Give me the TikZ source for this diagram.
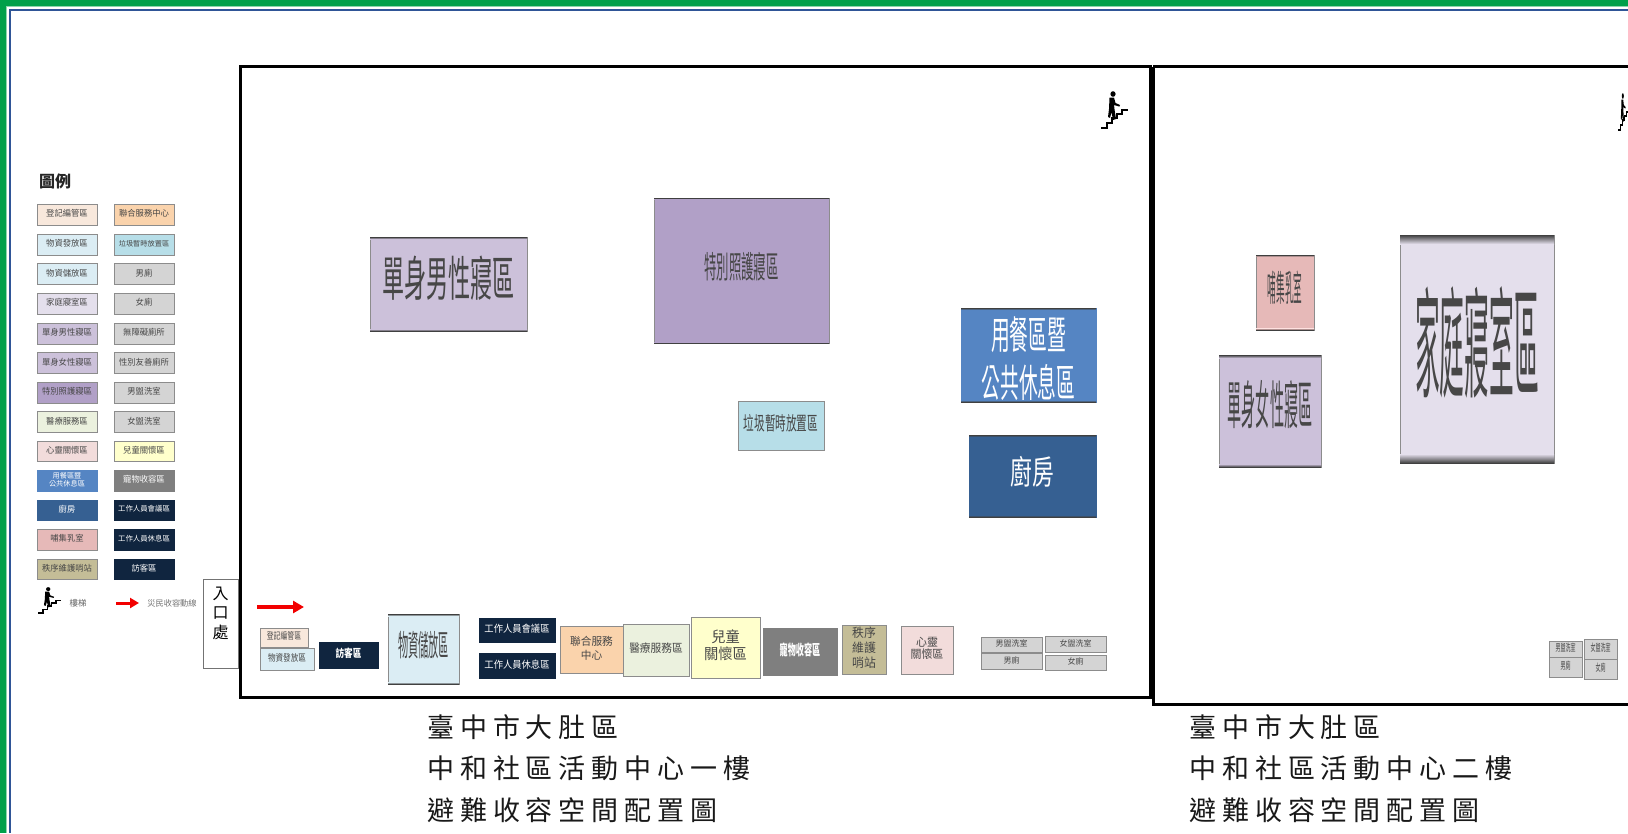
\documentclass[tikz,border=0pt]{standalone}
\usepackage{graphicx}
\usepackage{fontspec}
\setmainfont{Noto Sans CJK TC}
\newfontfamily\capfont[LetterSpace=22]{Noto Sans CJK TC}
\usetikzlibrary{arrows.meta}
\tikzset{
  x=1pt,y=-1pt,
  roombox/.style={draw=#1,line width=.9pt,inner sep=0pt,outer sep=0pt,text=black!72},
  roombox/.default={black!45},
  outerwall/.style={draw=black,line width=3pt},
  flowarrow/.style={draw=red!95!black,fill=red!95!black,line width=3.4pt,-{Triangle[length=11pt,width=12pt]}},
  legarrow/.style={draw=red!95!black,fill=red!95!black,line width=3pt,-{Triangle[length=9pt,width=10pt]}},
  captext/.style={anchor=north west,inner sep=0pt,align=left,text=black!90,font=\capfont\fontsize{27}{41.5}\selectfont}
}
\definecolor{cReg}{HTML}{F8E8DC}\definecolor{cUnion}{HTML}{FAD3AC}
\definecolor{cSup}{HTML}{DBEDF4}\definecolor{cTrash}{HTML}{B7DEE8}
\definecolor{cWc}{HTML}{D4D4D4}\definecolor{cFam}{HTML}{E4DFEC}
\definecolor{cSingle}{HTML}{CCC1DA}\definecolor{cCare}{HTML}{B1A0C7}
\definecolor{cMed}{HTML}{EBF1DE}\definecolor{cMind}{HTML}{F2DCDB}
\definecolor{cKid}{HTML}{FFFFCC}\definecolor{cDine}{HTML}{5585C3}
\definecolor{cPet}{HTML}{7F7F7F}\definecolor{cKit}{HTML}{366092}
\definecolor{cStaff}{HTML}{10253F}\definecolor{cNurse}{HTML}{E6B9B8}
\definecolor{cGuard}{HTML}{C4BD97}\definecolor{cGreen}{HTML}{00A04A}
\definecolor{cBlue}{HTML}{2F5597}
% text squeezed horizontally: {x scale}{font size}{lines}
\newcommand{\sqz}[3]{\scalebox{#1}[1]{\fontsize{#2}{#2}\selectfont\renewcommand{\arraystretch}{1.15}\begin{tabular}{@{}c@{}}#3\end{tabular}}}
% zero-height box, so a text can sit off the centre of its room
\newcommand{\nudge}[2]{\raisebox{#1}[0pt][0pt]{#2}}
% name, style, x1,y1,x2,y2, text
\newcommand{\room}[7]{%
  \pgfmathsetmacro{\rw}{#5-#3}\pgfmathsetmacro{\rh}{#6-#4}%
  \pgfmathsetmacro{\rx}{(#3+#5)/2}\pgfmathsetmacro{\ry}{(#4+#6)/2}%
  \node[#2,minimum width=\rw pt,minimum height=\rh pt] (#1) at (\rx,\ry) {#7};}
% stairs icon: name, x, y (top left of 27x38 cell), x scale, y scale
\newcommand{\stairicon}[5]{%
 \begin{scope}[shift={(#2,#3)},xscale=#4,yscale=#5]
  \coordinate (#1) at (0,0);
  \fill (12,3) ellipse (2.6 and 2.8);
  \fill (8.5,6.5) -- (13,6.5) -- (14.5,12) -- (19,14) -- (18.4,15.6) -- (13,14) -- (13.6,19) -- (15,28) -- (12,29) -- (10.5,21) -- (9,27) -- (7,26) -- (8,18) -- cycle;
  \draw[line width=1.5pt] (0,37) -- (6,37) -- (6,32) -- (11,32) -- (11,27) -- (16,27) -- (16,23) -- (21,23) -- (21,19) -- (27,19);
 \end{scope}}
\begin{document}
\begin{tikzpicture}
\useasboundingbox (0,0) rectangle (1628,833);
\fill[white] (0,0) rectangle (1628,833);
% page border
\fill[cGreen] (0,0) rectangle (1628,5.5);
\fill[cGreen] (0,0) rectangle (6,833);
\draw[cGreen!45!white,line width=1.2pt] (6.6,833) -- (6.6,6.2) -- (1628,6.2);
\draw[cBlue,line width=2pt] (9.5,833) -- (9.5,9.8) -- (1628,9.8);
% walls
\draw[outerwall] (240,66.5) rectangle (1150,697);
\draw[outerwall] (1153,66.5) -- (1632,66.5) (1153,66.5) -- (1153,704) -- (1632,704);
% legend
\node[anchor=west,inner sep=0pt,text=black!85] (legendtitle) at (39,183) {\sqz{1}{16}{\textbf{圖例}}};
\room{l1}{roombox,fill=cReg}{37}{204}{97}{225}{\sqz{.98}{8.5}{登記編管區}}
\room{l2}{roombox,fill=cSup}{37}{234}{97}{255}{\sqz{.98}{8.5}{物資發放區}}
\room{l3}{roombox,fill=cSup}{37}{263.5}{97}{284.5}{\sqz{.98}{8.5}{物資儲放區}}
\room{l4}{roombox,fill=cFam}{37}{293}{97}{314}{\sqz{.98}{8.5}{家庭寢室區}}
\room{l5}{roombox,fill=cSingle}{37}{323}{97}{344}{\sqz{.98}{8.5}{單身男性寢區}}
\room{l6}{roombox,fill=cSingle}{37}{352.5}{97}{373.5}{\sqz{.98}{8.5}{單身女性寢區}}
\room{l7}{roombox,fill=cCare}{37}{382}{97}{403}{\sqz{.98}{8.5}{特別照護寢區}}
\room{l8}{roombox,fill=cMed}{37}{411.5}{97}{432.5}{\sqz{.98}{8.5}{醫療服務區}}
\room{l9}{roombox,fill=cMind}{37}{441}{97}{461}{\sqz{.98}{8.5}{心靈關懷區}}
\room{l10}{roombox=cDine,fill=cDine,text=white}{37}{470.5}{97}{491}{\sqz{1}{7.2}{用餐區暨\\[-1pt]公共休息區}}
\room{l11}{roombox=cKit,fill=cKit,text=white}{37}{500}{97}{520}{\sqz{.98}{8.5}{廚房}}
\room{l12}{roombox,fill=cNurse}{37}{529.5}{97}{550}{\sqz{.98}{8.5}{哺集乳室}}
\room{l13}{roombox,fill=cGuard}{37}{559}{97}{579.5}{\sqz{.98}{8.5}{秩序維護哨站}}
\room{r1}{roombox,fill=cUnion}{114}{204}{174}{225}{\sqz{.98}{8.5}{聯合服務中心}}
\room{r2}{roombox,fill=cTrash}{114}{234}{174}{255}{\sqz{1}{7.2}{垃圾暫時放置區}}
\room{r3}{roombox,fill=cWc}{114}{263.5}{174}{284.5}{\sqz{.98}{8.5}{男廁}}
\room{r4}{roombox,fill=cWc}{114}{293}{174}{314}{\sqz{.98}{8.5}{女廁}}
\room{r5}{roombox,fill=cWc}{114}{323}{174}{344}{\sqz{.98}{8.5}{無障礙廁所}}
\room{r6}{roombox,fill=cWc}{114}{352.5}{174}{373.5}{\sqz{.98}{8.5}{性別友善廁所}}
\room{r7}{roombox,fill=cWc}{114}{382}{174}{403}{\sqz{.98}{8.5}{男盥洗室}}
\room{r8}{roombox,fill=cWc}{114}{411.5}{174}{432.5}{\sqz{.98}{8.5}{女盥洗室}}
\room{r9}{roombox,fill=cKid}{114}{441}{174}{461}{\sqz{.98}{8.5}{兒童關懷區}}
\room{r10}{roombox=cPet,fill=cPet,text=white}{114}{470.5}{174}{491}{\sqz{.98}{8.5}{寵物收容區}}
\room{r11}{roombox=cStaff,fill=cStaff,text=white}{114}{500}{174}{520}{\sqz{1}{7.4}{工作人員會議區}}
\room{r12}{roombox=cStaff,fill=cStaff,text=white}{114}{529.5}{174}{550}{\sqz{1}{7.4}{工作人員休息區}}
\room{r13}{roombox=cStaff,fill=cStaff,text=white}{114}{559}{174}{579.5}{\sqz{.98}{8.5}{訪客區}}
\stairicon{legstair}{38}{587}{.85}{.7}
\node[inner sep=0pt,text=black!60] (stairlabel) at (78,603) {\fontsize{8.5}{8.5}\selectfont 樓梯};
\coordinate (lega) at (116,603);\coordinate (legb) at (139,603);
\draw[legarrow] (lega) -- (legb);
\node[inner sep=0pt,text=black!55] (flowlabel) at (172,603) {\fontsize{8.2}{8.2}\selectfont 災民收容動線};
% entrance
\room{entry}{draw=black!55,line width=.8pt,fill=white,inner sep=0pt,text=black}{203}{579}{238}{668}{\nudge{4pt}{\fontsize{16}{16}\selectfont\begin{tabular}{@{}c@{}}入\\[2pt]口\\[2pt]處\end{tabular}}}
\coordinate (flowa) at (257,607);\coordinate (flowb) at (304,607);
\draw[flowarrow] (flowa) -- (flowb);
% first floor rooms
\room{a1}{roombox,fill=cReg}{260}{628}{308}{647}{\sqz{.72}{9.5}{登記編管區}}
\room{a2}{roombox,fill=cSup}{260}{648}{314}{670}{\sqz{.8}{9.5}{物資發放區}}
\room{a3}{roombox=cStaff,fill=cStaff,text=white}{319}{642}{378}{668}{\sqz{.78}{11}{\textbf{訪客區}}}
\room{a4}{roombox,fill=cSup}{388}{614}{459}{684}{\sqz{.34}{30}{物資儲放區}}
\room{a5}{roombox=cStaff,fill=cStaff,text=white}{479}{618}{555}{642}{\sqz{.93}{10}{工作人員會議區}}
\room{a6}{roombox=cStaff,fill=cStaff,text=white}{479}{653}{555}{678}{\sqz{.93}{10}{工作人員休息區}}
\room{a7}{roombox,fill=cUnion}{560}{626}{623}{673}{\sqz{.97}{11}{聯合服務\\[1pt]中心}}
\room{a8}{roombox,fill=cMed}{623}{624}{689}{676}{\sqz{.93}{11.5}{醫療服務區}}
\room{a9}{roombox,fill=cKid}{691}{617}{760}{678}{\sqz{.95}{15}{兒童\\[-1pt]關懷區}}
\room{a10}{roombox=cPet,fill=cPet,text=white}{763}{628}{837}{675}{\sqz{.56}{14.5}{\textbf{寵物收容區}}}
\room{a11}{roombox,fill=cGuard}{842}{625}{886}{674}{\sqz{.95}{12.5}{秩序\\[0pt]維護\\[0pt]哨站}}
\room{a12}{roombox,fill=cMind}{901}{626}{953}{674}{\sqz{.95}{11.5}{心靈\\[-1pt]關懷區}}
\room{a13}{roombox,fill=cWc}{981}{637}{1042}{652}{\sqz{1}{8}{男盥洗室}}
\room{a14}{roombox,fill=cWc}{1045}{636}{1106}{652}{\sqz{1}{8}{女盥洗室}}
\room{a15}{roombox,fill=cWc}{981}{653}{1042}{669}{\sqz{1}{8}{男廁}}
\room{a16}{roombox,fill=cWc}{1045}{655}{1106}{670}{\sqz{1}{8}{女廁}}
\room{a17}{roombox,fill=cSingle}{370}{237}{527}{331}{\sqz{.46}{48}{單身男性寢區}}
\room{a18}{roombox,fill=cCare}{654}{198}{829}{343}{\sqz{.4}{31}{特別照護寢區}}
\room{a19}{roombox=cDine,fill=cDine,text=white}{961}{308}{1096}{402}{\nudge{-15pt}{\sqz{.48}{39}{用餐區暨\\[2pt]公共休息區}}}
\room{a20}{roombox=cKit,fill=cKit,text=white}{969}{435}{1096}{517}{\sqz{.66}{33}{廚房}}
\room{a21}{roombox,fill=cTrash}{738}{401}{824}{450}{\sqz{.56}{19}{垃圾暫時放置區}}
\stairicon{s1}{1101}{91}{1}{1}
% second floor rooms
\room{b1}{roombox,fill=cNurse}{1256}{255}{1314}{330}{\sqz{.24}{36}{哺集乳室}}
\room{b2}{roombox,fill=cSingle}{1219}{355}{1321}{467}{\sqz{.27}{52}{單身女性寢區}}
\room{b3}{roombox,fill=cFam}{1400}{235}{1554}{463}{\nudge{-15pt}{\sqz{.206}{120}{家庭寢室區}}}
\room{b4}{roombox,fill=cWc}{1549}{641}{1582}{657}{\sqz{.5}{10}{男盥洗室}}
\room{b5}{roombox,fill=cWc}{1549}{657}{1582}{677}{\sqz{.5}{10}{男廁}}
\room{b6}{roombox,fill=cWc}{1584}{639}{1617}{659}{\sqz{.5}{10}{女盥洗室}}
\room{b7}{roombox,fill=cWc}{1584}{659}{1617}{679}{\sqz{.5}{10}{女廁}}
\stairicon{s2}{1618}{93}{.4}{1}
% darker top and bottom edges of the stretched rooms
\foreach \nm/\bandh/\bandc in {a4/2/cSup,a17/2/cSingle,a18/1/cCare,a19/2/cDine,a20/2/cKit,b1/1.5/cNurse,b2/3/cSingle,b3/9/cFam}{
  \shade[top color=black!75,bottom color=\bandc] (\nm.north west) rectangle ([yshift=-\bandh pt]\nm.north east);
  \shade[bottom color=black!75,top color=\bandc] (\nm.south west) rectangle ([yshift=\bandh pt]\nm.south east);
}
% captions
\node[captext] (cap1) at (427,714) {臺中市大肚區\\中和社區活動中心一樓\\避難收容空間配置圖};
\node[captext] (cap2) at (1189,714) {臺中市大肚區\\中和社區活動中心二樓\\避難收容空間配置圖};
\end{tikzpicture}
\end{document}
